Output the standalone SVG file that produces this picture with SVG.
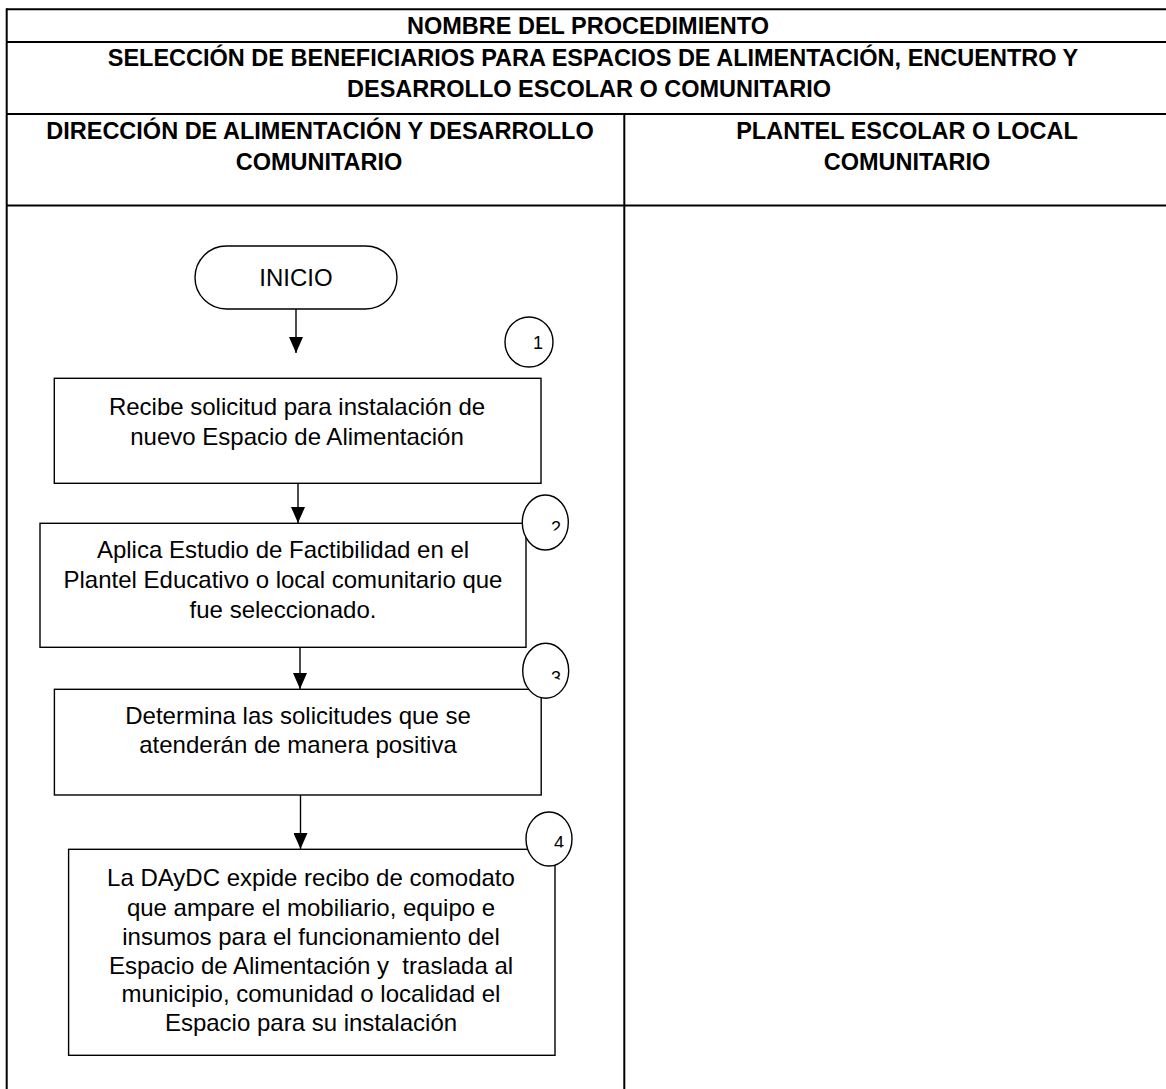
<svg xmlns="http://www.w3.org/2000/svg" width="1166" height="1089" viewBox="0 0 1166 1089">
<style>
.tl{stroke:#000;stroke-width:2;fill:none}
.hd{font-family:"Liberation Sans",Arial,sans-serif;font-weight:bold;font-size:23.5px;text-anchor:middle;fill:#000}
.tx{font-family:"Liberation Sans",Arial,sans-serif;font-size:24px;text-anchor:middle;fill:#000;white-space:pre}
.num{font-family:"Liberation Sans",Arial,sans-serif;font-size:18px;text-anchor:middle;fill:#000}
.bx{fill:#fff;stroke:#000;stroke-width:1.4}
.cn{stroke:#000;stroke-width:1.4;fill:none}
</style>
<defs>
<marker id="ah" markerWidth="16" markerHeight="14" refX="16" refY="7" orient="auto" markerUnits="userSpaceOnUse" viewBox="0 0 16 14">
<path d="M0,0 L16,7 L0,14 Z" fill="#000"/>
</marker>
<clipPath id="c2"><rect x="530" y="490" width="40" height="40.5"/></clipPath>
<clipPath id="c3"><rect x="530" y="640" width="40" height="39.5"/></clipPath>
<clipPath id="c4"><rect x="530" y="810" width="40" height="37.5"/></clipPath>
</defs>
<rect width="1166" height="1089" fill="#fff"/>
<g id="table">
<line class="tl" x1="6.7" y1="9.3" x2="1166" y2="9.3"/>
<line class="tl" x1="6.7" y1="42" x2="1166" y2="42"/>
<line class="tl" x1="6.7" y1="114" x2="1166" y2="114"/>
<line class="tl" x1="6.7" y1="205.5" x2="1166" y2="205.5"/>
<line class="tl" x1="6.7" y1="8.3" x2="6.7" y2="1089"/>
<line class="tl" x1="624.3" y1="114" x2="624.3" y2="1089"/>
<text class="hd" x="588" y="34">NOMBRE DEL PROCEDIMIENTO</text>
<text class="hd" x="593" y="66">SELECCIÓN DE BENEFICIARIOS PARA ESPACIOS DE ALIMENTACIÓN, ENCUENTRO Y</text>
<text class="hd" x="589" y="97">DESARROLLO ESCOLAR O COMUNITARIO</text>
<text class="hd" x="320" y="139">DIRECCIÓN DE ALIMENTACIÓN Y DESARROLLO</text>
<text class="hd" x="319" y="170">COMUNITARIO</text>
<text class="hd" x="907" y="139">PLANTEL ESCOLAR O LOCAL</text>
<text class="hd" x="907" y="170">COMUNITARIO</text>
</g>
<g id="connectors">
<line class="cn" x1="296" y1="309" x2="296" y2="353" marker-end="url(#ah)"/>
<line class="cn" x1="298" y1="483" x2="298" y2="523" marker-end="url(#ah)"/>
<line class="cn" x1="300" y1="647" x2="300" y2="689" marker-end="url(#ah)"/>
<line class="cn" x1="300.5" y1="795" x2="300.5" y2="849" marker-end="url(#ah)"/>
</g>
<g id="inicio">
<rect class="bx" x="195" y="246" width="202" height="63" rx="31.5"/>
<text class="tx" x="296" y="286">INICIO</text>
</g>
<g id="step1">
<rect class="bx" x="54.3" y="378.3" width="486.7" height="105"/>
<text class="tx" x="297" y="415">Recibe solicitud para instalación de</text>
<text class="tx" x="297" y="445">nuevo Espacio de Alimentación</text>
</g>
<g id="num1">
<ellipse class="bx" cx="529" cy="342" rx="24" ry="25"/>
<text class="num" x="538" y="349">1</text>
</g>
<g id="step2">
<rect class="bx" x="40" y="523.3" width="486" height="124"/>
<text class="tx" x="283" y="558">Aplica Estudio de Factibilidad en el</text>
<text class="tx" x="283" y="588">Plantel Educativo o local comunitario que</text>
<text class="tx" x="283" y="618">fue seleccionado.</text>
</g>
<g id="num2">
<ellipse class="bx" cx="545.3" cy="522.5" rx="23" ry="27.5"/>
<text class="num" x="556" y="533.5" clip-path="url(#c2)">2</text>
</g>
<g id="step3">
<rect class="bx" x="54.4" y="689.3" width="486.8" height="105.7"/>
<text class="tx" x="298" y="724">Determina las solicitudes que se</text>
<text class="tx" x="298" y="753">atenderán de manera positiva</text>
</g>
<g id="num3">
<ellipse class="bx" cx="545.7" cy="670.7" rx="23" ry="27.5"/>
<text class="num" x="556" y="684" clip-path="url(#c3)">3</text>
</g>
<g id="step4">
<rect class="bx" x="68.6" y="849.3" width="486.4" height="206"/>
<text class="tx" x="311" y="886">La DAyDC expide recibo de comodato</text>
<text class="tx" x="311" y="916">que ampare el mobiliario, equipo e</text>
<text class="tx" x="311" y="945">insumos para el funcionamiento del</text>
<text class="tx" x="311" y="974" xml:space="preserve">Espacio de Alimentación y  traslada al</text>
<text class="tx" x="311" y="1002">municipio, comunidad o localidad el</text>
<text class="tx" x="311" y="1031">Espacio para su instalación</text>
</g>
<g id="num4">
<ellipse class="bx" cx="549" cy="839" rx="23" ry="27"/>
<text class="num" x="559" y="849" clip-path="url(#c4)">4</text>
</g>
</svg>
